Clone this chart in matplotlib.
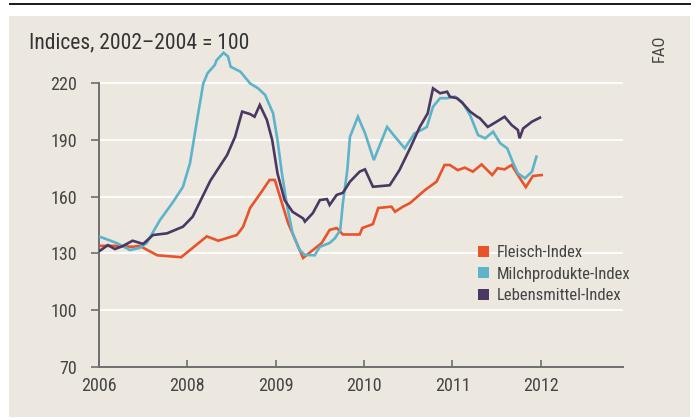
import matplotlib
matplotlib.use('Agg')
import matplotlib.pyplot as plt
from matplotlib.patches import Rectangle, Patch
from matplotlib.lines import Line2D

plt.rcParams['font.family'] = ['Liberation Sans Narrow', 'Roboto Condensed', 'Liberation Sans', 'DejaVu Sans']

# time in years (axis origin is labelled 2006 in the source)
fleisch_t = [2007.02, 2007.2, 2007.38, 2007.46, 2007.66, 2007.93, 2008.22, 2008.35, 2008.56, 2008.63,
             2008.71, 2008.84, 2008.93, 2008.99, 2009.14, 2009.31, 2009.52, 2009.61, 2009.69, 2009.76,
             2009.95, 2009.98, 2010.10, 2010.16, 2010.31, 2010.35, 2010.44, 2010.52, 2010.69, 2010.82,
             2010.91, 2010.97, 2011.06, 2011.14, 2011.23, 2011.33, 2011.45, 2011.51, 2011.59, 2011.67,
             2011.74, 2011.83, 2011.91, 2012.01]
fleisch_v = [134, 134, 133.5, 134, 129, 128, 139, 136.7, 139.7, 144,
             154, 162.6, 168.8, 168.8, 146, 127.6, 135.5, 142.4, 143.4, 140,
             140, 143.4, 145.5, 154, 154.7, 152, 154.7, 156.6, 163.5, 167.9,
             176.7, 176.7, 174, 175.3, 173.2, 177, 171.4, 175, 174.4, 176.7,
             171.4, 165, 170.9, 171.4]

milch_t = [2007.01, 2007.2, 2007.35, 2007.46, 2007.54, 2007.69, 2007.84, 2007.95, 2008.03, 2008.11,
           2008.18, 2008.23, 2008.31, 2008.33, 2008.41, 2008.46, 2008.49, 2008.6, 2008.71, 2008.8,
           2008.88, 2008.97, 2009.02, 2009.07, 2009.13, 2009.19, 2009.27, 2009.33, 2009.44, 2009.5,
           2009.61, 2009.67, 2009.73, 2009.76, 2009.81, 2009.84, 2009.93, 2010.01, 2010.11, 2010.26,
           2010.35, 2010.46, 2010.57, 2010.65, 2010.71, 2010.78, 2010.86, 2010.94, 2011.03, 2011.11,
           2011.2, 2011.29, 2011.37, 2011.46, 2011.54, 2011.62, 2011.68, 2011.74, 2011.82, 2011.9,
           2011.95]
milch_v = [138.8, 135.5, 131.8, 132.9, 135.5, 147.6, 157.3, 165.2, 177.7, 200.5,
           219.8, 225.3, 229.5, 232, 236, 234, 228.6, 226, 219.8, 217.2,
           213.7, 204, 189.9, 172.3, 154.7, 140.8, 131.8, 129.2, 129, 133.5,
           135.5, 138, 142.4, 156.6, 174, 191.6, 202.2, 193.6, 179.3, 196.8,
           191.6, 185.5, 193.4, 195.2, 196.8, 207.5, 212, 212, 212.8, 210,
           203, 192.5, 190.8, 194.3, 188.2, 185.5, 178.5, 172.3, 169.7, 173.2,
           181.1]

lebens_t = [2007.01, 2007.1, 2007.18, 2007.27, 2007.38, 2007.5, 2007.61, 2007.77, 2007.95, 2008.06,
            2008.26, 2008.45, 2008.54, 2008.62, 2008.71, 2008.76, 2008.82, 2008.9, 2008.96, 2009.02,
            2009.1, 2009.19, 2009.31, 2009.33, 2009.42, 2009.5, 2009.58, 2009.61, 2009.69, 2009.76,
            2009.84, 2009.95, 2010.01, 2010.1, 2010.29, 2010.4, 2010.52, 2010.63, 2010.72, 2010.78,
            2010.86, 2010.94, 2010.97, 2011.05, 2011.11, 2011.2, 2011.28, 2011.31, 2011.4, 2011.5,
            2011.59, 2011.67, 2011.74, 2011.76, 2011.8, 2011.9, 2011.99]
lebens_v = [131.4, 134.4, 132.3, 133.9, 136.7, 135, 139.7, 140.6, 144.1, 149.4,
            168.4, 182, 191.6, 204.9, 203.6, 202.2, 208.4, 200.5, 189.9, 172.3,
            158.2, 152, 148.5, 146.8, 151.3, 158.2, 158.7, 155.6, 160.9, 162,
            167.9, 173.2, 174.4, 165.2, 166, 174, 185.5, 196.8, 204, 217.2,
            214.6, 215.4, 212.8, 212, 209.6, 204.9, 202.2, 201.4, 196.8, 199.6,
            202.2, 197.8, 195.2, 190.8, 196, 199.6, 201.7]

labels = ['Fleisch-Index', 'Milchprodukte-Index', 'Lebensmittel-Index']
colors = ['#e8532b', '#5cb3ca', '#4b3862']

xtick_pos = [2007, 2008, 2009, 2010, 2011, 2012]
xtick_labels = ['2006', '2008', '2009', '2010', '2011', '2012']
yticks = [70, 100, 130, 160, 190, 220]

bg = '#ece8e0'
axis_col = '#6e6e6e'
text_col = '#444444'

fig = plt.figure(figsize=(6.96, 4.20), dpi=100)
fig.patch.set_facecolor('white')
fig.add_artist(Rectangle((9 / 696, 3 / 420), 681 / 696, 401 / 420, transform=fig.transFigure,
                         facecolor=bg, edgecolor='none', zorder=-10))
fig.add_artist(Line2D([10 / 696, 690 / 696], [1 - 3.5 / 420, 1 - 3.5 / 420], transform=fig.transFigure,
                      color='#1a1a1a', linewidth=1.4))

ax = fig.add_axes([99 / 696, 53 / 420, 524 / 696, 331.3 / 420])
ax.set_facecolor('none')
ax.set_zorder(1)

for t, v, c in zip([fleisch_t, milch_t, lebens_t], [fleisch_v, milch_v, lebens_v], colors):
    ax.plot(t, v, color=c, linewidth=1.9, solid_joinstyle='miter', zorder=3)

ax.set_xlim(2007, 2012.93)
ax.set_ylim(70, 245)
ax.set_yticks(yticks)
ax.set_xticks(xtick_pos)
ax.set_xticklabels(xtick_labels)

for y in yticks[1:]:
    ax.axhline(y, color='white', linewidth=1.3, zorder=1)

for s in ['top', 'right']:
    ax.spines[s].set_visible(False)
for s in ['left', 'bottom']:
    ax.spines[s].set_color(axis_col)
    ax.spines[s].set_linewidth(1.4)
ax.spines['left'].set_bounds(70, 220)

ax.tick_params(axis='y', direction='out', length=6, width=1.2, color=axis_col,
               labelsize=13, labelcolor=text_col, pad=10)
ax.tick_params(axis='x', direction='in', length=5, width=1.2, color=axis_col,
               labelsize=13, labelcolor=text_col, pad=7)

fig.text(29 / 696, 1 - 48 / 420, 'Indices, 2002\u20132004 = 100', fontsize=15.5, color='#333333',
         ha='left', va='baseline')
fig.text(659 / 696, 1 - 48 / 420, 'FAO', fontsize=12, color='#444444', rotation=90,
         ha='center', va='center')

handles = [Patch(facecolor=c, edgecolor='none') for c in colors]
ax.legend(handles, labels, loc='upper left', bbox_to_anchor=(478 / 696, 1 - 245 / 420),
          bbox_transform=fig.transFigure, frameon=False, fontsize=12, borderpad=0,
          borderaxespad=0, handlelength=0.65, handleheight=0.65, handletextpad=0.45,
          labelspacing=0.4, labelcolor=text_col)

fig.savefig('out.png', dpi=100)
